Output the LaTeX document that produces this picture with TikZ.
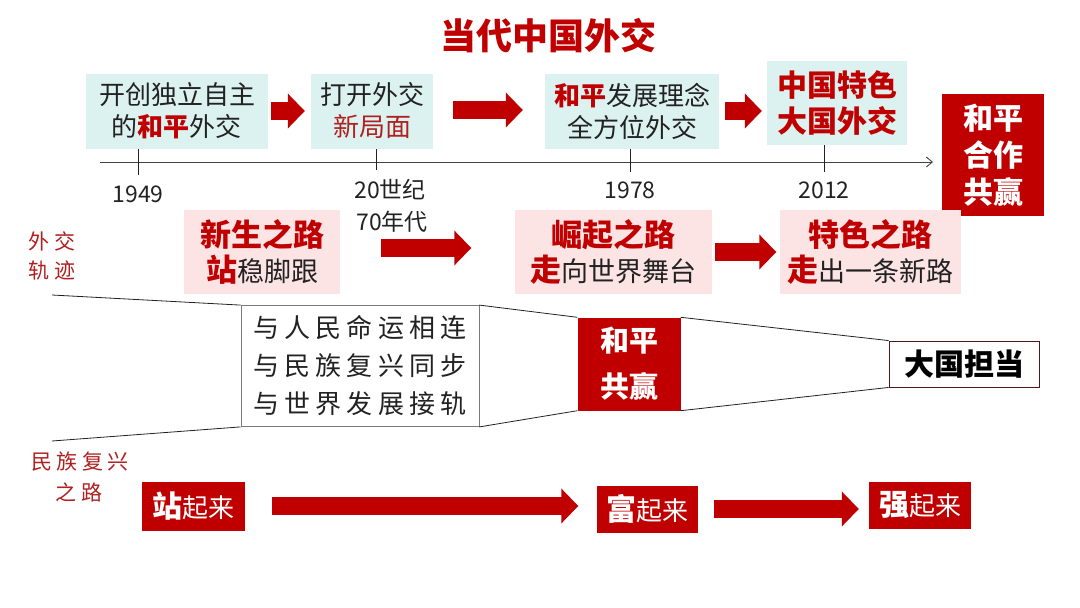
\documentclass[tikz,border=0pt]{standalone}
\usepackage{fontspec}
\newfontfamily\cjk{Noto Sans CJK SC}
\newfontfamily\cjkls{Noto Sans CJK SC}[LetterSpace=20]
\usetikzlibrary{arrows.meta}
\definecolor{cred}{HTML}{C00000}
\definecolor{dred}{HTML}{B02020}
\definecolor{cyanbox}{HTML}{DCF2F0}
\definecolor{pinkbox}{HTML}{FCE4E4}
\definecolor{ink}{HTML}{222222}
\tikzset{
  fs/.style n args={2}{font=\cjk\fontsize{#1}{#2}\selectfont},
  fsb/.style n args={2}{font=\cjk\bfseries\fontsize{#1}{#2}\selectfont},
  cbox/.style={fill=cyanbox, text=ink, align=center, inner sep=0pt},
  pbox/.style={fill=pinkbox, text=ink, align=center, inner sep=0pt},
  rbox/.style={fill=cred, text=white, align=center, inner sep=0pt},
  barrow/.style={draw=cred, line width=#1, line cap=butt,
     -{Triangle[length=17pt,width=34pt]}},
  barrow/.default=18pt,
  datelabel/.style={fs={23}{30}, text=ink, inner sep=0pt},
  sidelabel/.style={font=\cjkls\fontsize{21}{30}\selectfont, text=dred, inner sep=0pt},
  tick/.style={draw=ink, line width=0.8pt},
  funnel/.style={draw=ink, line width=0.8pt},
}
\begin{document}
\begin{tikzpicture}[x=1pt,y=-1pt]
\useasboundingbox (0,0) rectangle (1080,608);
\fill[white] (0,0) rectangle (1080,608);

% title
\node[fsb={36}{40}, text=cred] (title) at (548,36) {当代中国外交};

% top row
\node[cbox, minimum width=182pt, minimum height=75pt, fs={26}{32}] (b1) at (177,111)
  {开创独立自主\\的{\bfseries\color{cred}和平}外交};
\node[cbox, minimum width=122pt, minimum height=75pt, fs={26}{32}] (b2) at (372,111)
  {打开外交\\{\color{dred}新局面}};
\node[cbox, minimum width=174pt, minimum height=75pt, fs={26}{32}] (b3) at (632,111)
  {{\bfseries\color{cred}和平}发展理念\\全方位外交};
\node[cbox, minimum width=140pt, minimum height=84pt, fsb={30}{36}, text=cred] (b4) at (837,103)
  {中国特色\\大国外交};
\node[rbox, minimum width=102pt, minimum height=122pt, fsb={30}{37}] (hz) at (993,155)
  {和平\\合作\\共赢};

\draw[barrow, shorten <=3pt, shorten >=6pt] (b1) -- (b2);
\draw[barrow, shorten <=20pt, shorten >=22pt] (b2.east |- 0,110) -- (b3.west |- 0,110);
\draw[barrow, shorten <=6pt, shorten >=5pt] (b3.east) -- (b3.east -| b4.west);

% timeline
\coordinate (ax0) at (100,162);
\coordinate (ax1) at (933,162);
\draw[draw=ink!85, line width=0.9pt, -{Straight Barb[length=6pt,width=10pt]}] (ax0) -- (ax1);
\coordinate (t1a) at (138,149); \coordinate (t1b) at (138,175);
\coordinate (t2a) at (376,149); \coordinate (t2b) at (376,170);
\coordinate (t3a) at (630,149); \coordinate (t3b) at (630,172);
\coordinate (t4a) at (824,145); \coordinate (t4b) at (824,172);
\draw[tick] (t1a) -- (t1b);
\draw[tick] (t2a) -- (t2b);
\draw[tick] (t3a) -- (t3b);
\draw[tick] (t4a) -- (t4b);
\node[datelabel] (d1) at (138,194) {1949};
\node[datelabel] (d2) at (390,190) {20世纪};
\node[datelabel] (d2b) at (392,222) {70年代};
\node[datelabel] (d3) at (630,190) {1978};
\node[datelabel] (d4) at (824,190) {2012};

% middle row
\node[pbox, minimum width=156pt, minimum height=84pt, fs={27}{35}] (m1) at (262,252)
  {{\fontsize{31}{35}\selectfont\bfseries\color{cred}新生之路}\\{\fontsize{31}{35}\selectfont\bfseries\color{cred}站}稳脚跟};
\node[pbox, minimum width=197pt, minimum height=84pt, fs={27}{35}] (m2) at (613,252)
  {{\fontsize{31}{35}\selectfont\bfseries\color{cred}崛起之路}\\{\fontsize{31}{35}\selectfont\bfseries\color{cred}走}向世界舞台};
\node[pbox, minimum width=181pt, minimum height=84pt, fs={27}{35}] (m3) at (870,252)
  {{\fontsize{31}{35}\selectfont\bfseries\color{cred}特色之路}\\{\fontsize{31}{35}\selectfont\bfseries\color{cred}走}出一条新路};
\draw[barrow, shorten <=41pt, shorten >=43pt] ([yshift=4pt]m1.east) -- ([yshift=4pt]m2.west);
\draw[barrow, shorten <=3pt, shorten >=3pt] (m2.east) -- (m3.west);

% side labels
\node[sidelabel] (l1) at (52,241) {外交};
\node[sidelabel] (l2) at (52,271) {轨迹};
\node[sidelabel] (l3) at (80,462) {民族复兴};
\node[sidelabel] (l4) at (79,492) {之路};

% funnel
\node[draw=ink!60, line width=0.8pt, fill=white, minimum width=238pt, minimum height=121pt,
      font=\cjkls\fontsize{26}{38}\selectfont, text=ink, align=center, inner sep=0pt] (tb) at (360,366)
  {与人民命运相连\\与民族复兴同步\\与世界发展接轨};
\node[rbox, minimum width=103pt, minimum height=93pt, fsb={29}{46}] (hp) at (629,364)
  {和平\\共赢};
\node[draw=ink!70!cred, line width=0.9pt, fill=white, minimum width=150pt, minimum height=46pt,
      fsb={30}{34}, text=black, inner sep=0pt] (dg) at (964,364) {大国担当};
\coordinate (ftl) at (52,295);
\coordinate (fbl) at (52,441);
\draw[funnel] (ftl) -- (tb.north west);
\draw[funnel] (fbl) -- (tb.south west);
\draw[funnel] (tb.north east) -- (hp.north west);
\draw[funnel] (tb.south east) -- (hp.south west);
\draw[funnel] (hp.north east) -- (dg.north west);
\draw[funnel] (hp.south east) -- (dg.south west);

% bottom row
\node[rbox, minimum width=103pt, minimum height=49pt, fs={26}{30}] (s1) at (193,506)
  {{\fontsize{30}{30}\selectfont\bfseries 站}起来};
\node[rbox, minimum width=101pt, minimum height=47pt, fs={26}{30}] (s2) at (647,509)
  {{\fontsize{30}{30}\selectfont\bfseries 富}起来};
\node[rbox, minimum width=102pt, minimum height=47pt, fs={26}{30}] (s3) at (920,505)
  {{\fontsize{30}{30}\selectfont\bfseries 强}起来};
\draw[barrow, shorten <=27pt, shorten >=18pt] (s1.east) -- (s1.east -| s2.west);
\draw[barrow, shorten <=16pt, shorten >=10pt] (s2.east) -- (s2.east -| s3.west);
\end{tikzpicture}
\end{document}
